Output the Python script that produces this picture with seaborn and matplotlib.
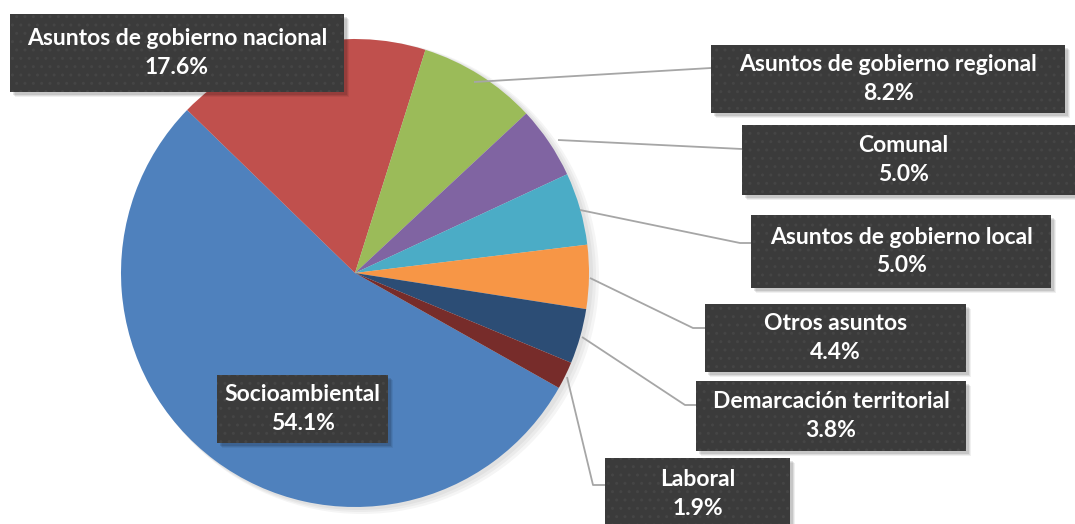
import matplotlib.pyplot as plt
import matplotlib.patches as mpatches
import seaborn as sns

# Datos del gráfico (porcentajes por tipo de conflicto)
categorias = ["Socioambiental", "Asuntos de gobierno nacional", "Asuntos de gobierno regional",
              "Comunal", "Asuntos de gobierno local", "Otros asuntos",
              "Demarcación territorial", "Laboral"]
porcentajes = [54.1, 17.6, 8.2, 5.0, 5.0, 4.4, 3.8, 1.9]
colores = ["#4F81BD", "#C0504D", "#9BBB59", "#8064A2", "#4BACC6", "#F79646", "#2C4D75", "#772C2A"]

W, H = 1075, 524
CX, CY, R = 355, 273, 234

# Cajas de etiquetas en píxeles (x0, y0, x1, y1) y líneas guía
cajas = {
    "Socioambiental": (217, 375, 388, 443),
    "Asuntos de gobierno nacional": (10, 14, 344, 92),
    "Asuntos de gobierno regional": (711, 45, 1065, 113),
    "Comunal": (742, 125, 1080, 195),
    "Asuntos de gobierno local": (751, 215, 1051, 288),
    "Otros asuntos": (705, 304, 966, 372),
    "Demarcación territorial": (696, 381, 966, 451),
    "Laboral": (605, 458, 790, 530),
}
guias = {
    "Asuntos de gobierno regional": [(474, 82), (711, 68)],
    "Comunal": [(558, 140), (742, 149)],
    "Asuntos de gobierno local": [(580, 210), (740, 243), (751, 243)],
    "Otros asuntos": [(590, 278), (693, 328), (705, 328)],
    "Demarcación territorial": [(582, 337), (685, 405), (696, 405)],
    "Laboral": [(567, 377), (593, 485), (605, 485)],
}

sns.set_theme(style="white")
plt.rcParams['font.family'] = ['Lato', 'DejaVu Sans']
plt.rcParams['hatch.linewidth'] = 1.0

fig = plt.figure(figsize=(W / 100, H / 100), dpi=100)
ax = fig.add_axes([0, 0, 1, 1])

def py(y):
    return H - y

# sombra suave del pastel
for i, a in enumerate([0.04, 0.04, 0.04]):
    ax.add_patch(mpatches.Circle((CX + 3 + 2 * i, py(CY) - 2 - i), R + 1 + i,
                                 color='black', alpha=a, lw=0, zorder=1))

ax.pie(porcentajes, colors=sns.color_palette(colores), startangle=-29.4, counterclock=False,
       center=(CX, py(CY)), radius=R, frame=True,
       wedgeprops=dict(linewidth=0, zorder=2))
ax.set_xlim(0, W)
ax.set_ylim(0, H)
ax.set_aspect('equal')
ax.axis('off')

for cat, pts in guias.items():
    xs = [p[0] for p in pts]
    ys = [py(p[1]) for p in pts]
    ax.plot(xs, ys, color='#a6a6a6', lw=1.3, zorder=3, solid_capstyle='butt')

for cat, val in zip(categorias, porcentajes):
    x0, y0, x1, y1 = cajas[cat]
    # sombra de la caja
    for k, a in enumerate([0.10, 0.08, 0.06]):
        ax.add_patch(mpatches.Rectangle((x0 + 3 + k, py(y1) - 3 - k), x1 - x0, y1 - y0,
                                        facecolor='black', alpha=a, lw=0, zorder=4))
    ax.add_patch(mpatches.Rectangle((x0, py(y1)), x1 - x0, y1 - y0, facecolor='#3b3b3b',
                                    edgecolor='#454545', hatch='..', lw=0, zorder=5))
    xc = (x0 + x1) / 2 if x1 < W else (x0 + 1065) / 2
    yc = (y0 + y1) / 2 if y1 < H else (y0 + 524) / 2 + 3
    ax.text(xc, py(yc), f"{cat}\n{val:.1f}%", ha='center', va='center',
            color='white', fontsize=16.5, fontweight='bold', linespacing=1.42, zorder=6)

fig.savefig("out.png", dpi=100)
